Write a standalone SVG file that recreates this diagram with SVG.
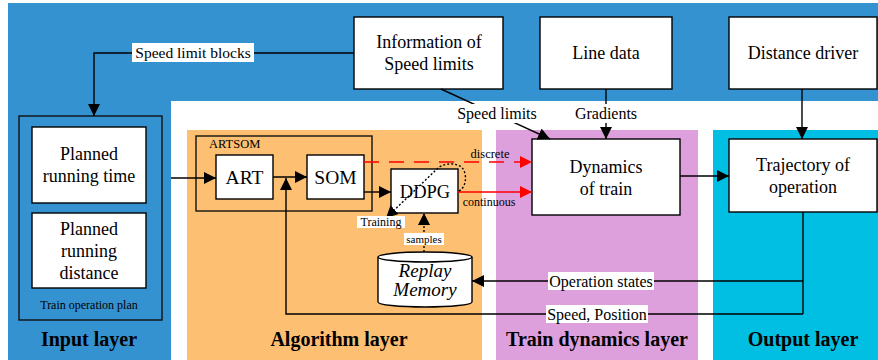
<svg xmlns="http://www.w3.org/2000/svg" width="878" height="360" viewBox="0 0 878 360" font-family="'Liberation Serif','Times New Roman',serif">
<style>
text{font-family:"Liberation Serif","Times New Roman",serif;fill:#000}
.box{fill:#fff;stroke:#000;stroke-width:1.4}
.t16{font-size:18px;text-anchor:middle}
.t18{font-size:19.5px;text-anchor:middle}
.lbl{font-size:16px;text-anchor:middle}
.sm{font-size:12px;text-anchor:middle}
.layer{font-size:20px;font-weight:bold;text-anchor:middle}
.ln{fill:none;stroke:#000;stroke-width:1.4}
.red{fill:none;stroke:#ff0000;stroke-width:1.6}
.bg{fill:#fff}
</style>
<defs>
<marker id="ah" markerUnits="userSpaceOnUse" markerWidth="14" markerHeight="12" refX="12" refY="6" orient="auto">
<path d="M0,0 L12,6 L0,12 z" fill="#000"/>
</marker>
<marker id="ahr" markerUnits="userSpaceOnUse" markerWidth="14" markerHeight="12" refX="12" refY="6" orient="auto">
<path d="M0,0 L12,6 L0,12 z" fill="#ff0000"/>
</marker>
</defs>
<g id="backgrounds">
<path d="M8,3 H878 V101 H171 V360 H8 Z" fill="#3592d0"/>
<rect x="187" y="130" width="295" height="230" fill="#fdbf72"/>
<rect x="496" y="130" width="202" height="230" fill="#dda0dd"/>
<rect x="713" y="130" width="165" height="230" fill="#00bfe2"/>
</g>
<g id="input-layer">
<rect x="19" y="116" width="143" height="204" fill="none" stroke="#111" stroke-width="1.4"/>
<text x="89" y="309" class="sm">Train operation plan</text>
<text x="89" y="346" class="layer">Input layer</text>
</g>
<g id="planned-time">
<rect x="32" y="127" width="114" height="76" class="box"/>
<text x="89" y="160" class="t16">Planned</text>
<text x="89" y="182" class="t16">running time</text>
</g>
<g id="planned-distance">
<rect x="32" y="213" width="114" height="75" class="box"/>
<text x="89" y="235" class="t16">Planned</text>
<text x="89" y="257" class="t16">running</text>
<text x="89" y="279" class="t16">distance</text>
</g>
<g id="info-speed">
<rect x="354" y="17" width="149" height="72" class="box"/>
<text x="429" y="48" class="t16">Information of</text>
<text x="429" y="70" class="t16">Speed limits</text>
</g>
<g id="line-data">
<rect x="540" y="17" width="132" height="72" class="box"/>
<text x="606" y="59" class="t16">Line data</text>
</g>
<g id="distance-driver">
<rect x="729" y="17" width="148" height="72" class="box"/>
<text x="803" y="59" class="t16">Distance driver</text>
</g>
<g id="artsom">
<rect x="196" y="136" width="176" height="75" fill="none" stroke="#111" stroke-width="1.4"/>
<text x="209" y="148" font-size="12.5px">ARTSOM</text>
</g>
<g id="art">
<rect x="216" y="155" width="57" height="44" class="box"/>
<text x="244.5" y="184" class="t18">ART</text>
</g>
<g id="som">
<rect x="307" y="155" width="57" height="44" class="box"/>
<text x="335.5" y="184" class="t18">SOM</text>
</g>
<g id="ddpg">
<rect x="391" y="169" width="67" height="44" class="box"/>
<text x="425" y="198" font-size="18.5px" text-anchor="middle">DDPG</text>
</g>
<g id="replay-memory">
<path d="M378,257 V302 A47,5 0 0 0 472,302 V257" fill="#fff" stroke="#000" stroke-width="1.4"/>
<ellipse cx="425" cy="257" rx="47" ry="5" fill="#fff" stroke="#000" stroke-width="1.4"/>
<text x="425" y="277" font-size="19px" font-style="italic" text-anchor="middle">Replay</text>
<text x="425" y="296" font-size="19px" font-style="italic" text-anchor="middle">Memory</text>
</g>
<g id="algorithm-label">
<text x="339" y="346" class="layer">Algorithm layer</text>
</g>
<g id="dynamics">
<rect x="532" y="139" width="148" height="76" class="box"/>
<text x="606" y="173" class="t16">Dynamics</text>
<text x="606" y="195" class="t16">of train</text>
</g>
<g id="dynamics-label">
<text x="597" y="346" class="layer">Train dynamics layer</text>
</g>
<g id="trajectory">
<rect x="729" y="139" width="148" height="73" class="box"/>
<text x="803" y="171" class="t16">Trajectory of</text>
<text x="803" y="193" class="t16">operation</text>
</g>
<g id="output-label">
<text x="803" y="346" class="layer">Output layer</text>
</g>
<g id="connectors">
<polyline points="354,53 94,53 94,116" class="ln" marker-end="url(#ah)"/>
<rect x="132" y="43" width="122" height="19" class="bg"/>
<text x="193" y="58" font-size="15.5px" text-anchor="middle">Speed limit blocks</text>

<line x1="441" y1="89" x2="550" y2="139" class="ln" marker-end="url(#ah)"/>
<rect x="455" y="104" width="84" height="19" fill="#fff"/>
<text x="497" y="119" class="lbl">Speed limits</text>

<line x1="606" y1="89" x2="606" y2="139" class="ln" marker-end="url(#ah)"/>
<rect x="573" y="104" width="66" height="19" fill="#fff"/>
<text x="606" y="119" class="lbl">Gradients</text>

<line x1="802" y1="89" x2="802" y2="139" class="ln" marker-end="url(#ah)"/>

<line x1="171" y1="178" x2="216" y2="178" class="ln" marker-end="url(#ah)"/>
<line x1="273" y1="177" x2="307" y2="177" class="ln" marker-end="url(#ah)"/>
<line x1="364" y1="192" x2="391" y2="192" class="ln" marker-end="url(#ah)"/>
<line x1="680" y1="176" x2="729" y2="176" class="ln" marker-end="url(#ah)"/>

<line x1="364" y1="162" x2="532" y2="162" class="red" stroke-dasharray="15,10" marker-end="url(#ahr)"/>
<text x="490" y="158" font-size="12.5px" text-anchor="middle">discrete</text>
<line x1="458" y1="192" x2="532" y2="192" class="red" marker-end="url(#ahr)"/>
<text x="489" y="206" class="sm">continuous</text>

<path d="M459,191 C468,186 467,170 460,166 C452,162 442,164 437,169 L386,218" fill="none" stroke="#000" stroke-width="1.4" stroke-dasharray="2,2" marker-end="url(#ah)"/>
<rect x="357" y="216" width="48" height="12" class="bg"/>
<text x="381" y="226" class="sm">Training</text>

<line x1="424" y1="252" x2="424" y2="213" stroke="#000" stroke-width="1.4" stroke-dasharray="2,2" marker-end="url(#ah)"/>
<rect x="404" y="233" width="40" height="12" class="bg"/>
<text x="424" y="243" font-size="11px" text-anchor="middle">samples</text>

<polyline points="803,212 803,314" class="ln"/>
<line x1="803" y1="281" x2="472" y2="281" class="ln" marker-end="url(#ah)"/>
<rect x="548" y="272" width="106" height="18" class="bg"/>
<text x="601" y="286.5" class="lbl">Operation states</text>

<polyline points="803,314 286,314 286,178" class="ln" marker-end="url(#ah)"/>
<rect x="546" y="305" width="102" height="18" class="bg"/>
<text x="597" y="319.5" class="lbl">Speed, Position</text>
</g>
</svg>
